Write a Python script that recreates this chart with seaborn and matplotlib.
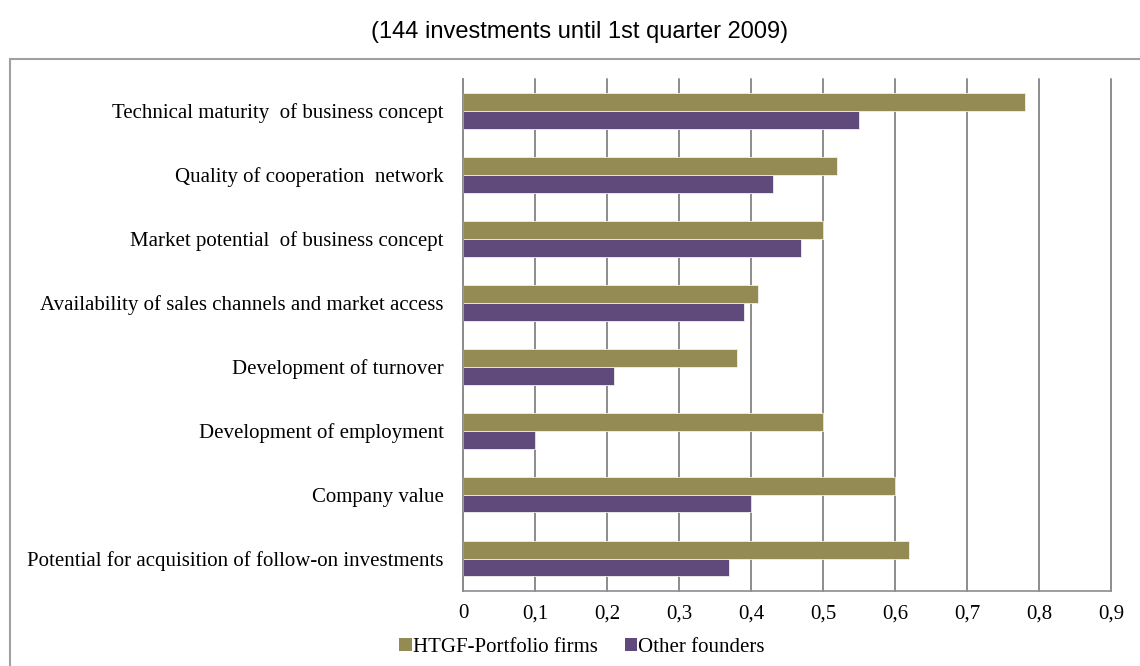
import numpy as np
import pandas as pd
import matplotlib
matplotlib.use("Agg")
import matplotlib.pyplot as plt
from matplotlib.lines import Line2D
import seaborn as sns

criteria = [
    "Technical maturity  of business concept",
    "Quality of cooperation  network",
    "Market potential  of business concept",
    "Availability of sales channels and market access",
    "Development of turnover",
    "Development of employment",
    "Company value",
    "Potential for acquisition of follow-on investments",
]
htgf_values = [0.78, 0.52, 0.50, 0.41, 0.38, 0.50, 0.60, 0.62]
other_values = [0.55, 0.43, 0.47, 0.39, 0.21, 0.10, 0.40, 0.37]
series_names = ["HTGF-Portfolio firms", "Other founders"]
x_ticks = [0, 0.1, 0.2, 0.3, 0.4, 0.5, 0.6, 0.7, 0.8, 0.9]
x_tick_labels = ["0", "0,1", "0,2", "0,3", "0,4", "0,5", "0,6", "0,7", "0,8", "0,9"]
title_text = "(144 investments until 1st quarter 2009)"

df = pd.DataFrame({
    "criterion": criteria * 2,
    "value": htgf_values + other_values,
    "group": [series_names[0]] * len(criteria) + [series_names[1]] * len(criteria),
})

sns.set_style("white")
plt.rcParams["font.family"] = ["Liberation Serif", "DejaVu Serif"]
plt.rcParams["text.color"] = "black"
plt.rcParams["xtick.color"] = "black"
plt.rcParams["ytick.color"] = "black"

colors = ["#948A54", "#604A7B"]
grid_color = "#8C8C8C"

W, H = 1140, 666
fig = plt.figure(figsize=(W / 100, H / 100), dpi=100)
ax = fig.add_axes([463 / W, 1 - 590.5 / H, (1111 - 463) / W, (590.5 - 79) / H])

sns.barplot(
    data=df, x="value", y="criterion", hue="group", order=criteria,
    hue_order=series_names, palette=colors, width=0.56, orient="h",
    edgecolor="#F2F0E6", linewidth=0.6, saturation=1, ax=ax, legend=False,
)

ax.set_xlim(0, 0.9)
ax.set_ylim(7.5, -0.5)
ax.set_xticks(x_ticks)
ax.set_xticklabels(x_tick_labels, fontsize=15)
ax.set_xlabel("")
ax.set_ylabel("")
ax.tick_params(axis="y", which="major", length=0, labelsize=15, pad=14)
ax.set_yticks(np.arange(-0.5, len(criteria), 1), minor=True)
ax.tick_params(axis="y", which="minor", length=5, width=1.2, color=grid_color, direction="out")
ax.tick_params(axis="x", length=4, width=1.2, color=grid_color, pad=6, direction="out")

ax.xaxis.grid(True, color=grid_color, linewidth=1.4)
for gl in ax.get_xgridlines():
    gl.set_clip_on(False)
ax.yaxis.grid(False)
ax.set_axisbelow(True)
for side in ["top", "right"]:
    ax.spines[side].set_visible(False)
for side in ["left", "bottom"]:
    ax.spines[side].set_color(grid_color)
    ax.spines[side].set_linewidth(1.2)

# outer chart frame
fig.add_artist(Line2D([10 / W, 10 / W], [0, 1 - 59 / H], transform=fig.transFigure,
                      color="#A0A0A0", linewidth=1.5))
fig.add_artist(Line2D([10 / W, 1], [1 - 59 / H, 1 - 59 / H], transform=fig.transFigure,
                      color="#A0A0A0", linewidth=1.5))

fig.text(580 / W, 1 - 32 / H, title_text, ha="center", va="center",
         fontsize=17, family=["Liberation Sans", "DejaVu Sans"])

handles = [plt.Rectangle((0, 0), 1, 1, facecolor=c, edgecolor="none") for c in colors]
fig.legend(handles, series_names, loc="center", bbox_to_anchor=(582 / W, 1 - 647 / H),
           ncol=2, frameon=False, fontsize=15, handlelength=0.6, handleheight=0.6,
           handletextpad=0.05, columnspacing=1.3)

fig.savefig("out.png", dpi=100)
